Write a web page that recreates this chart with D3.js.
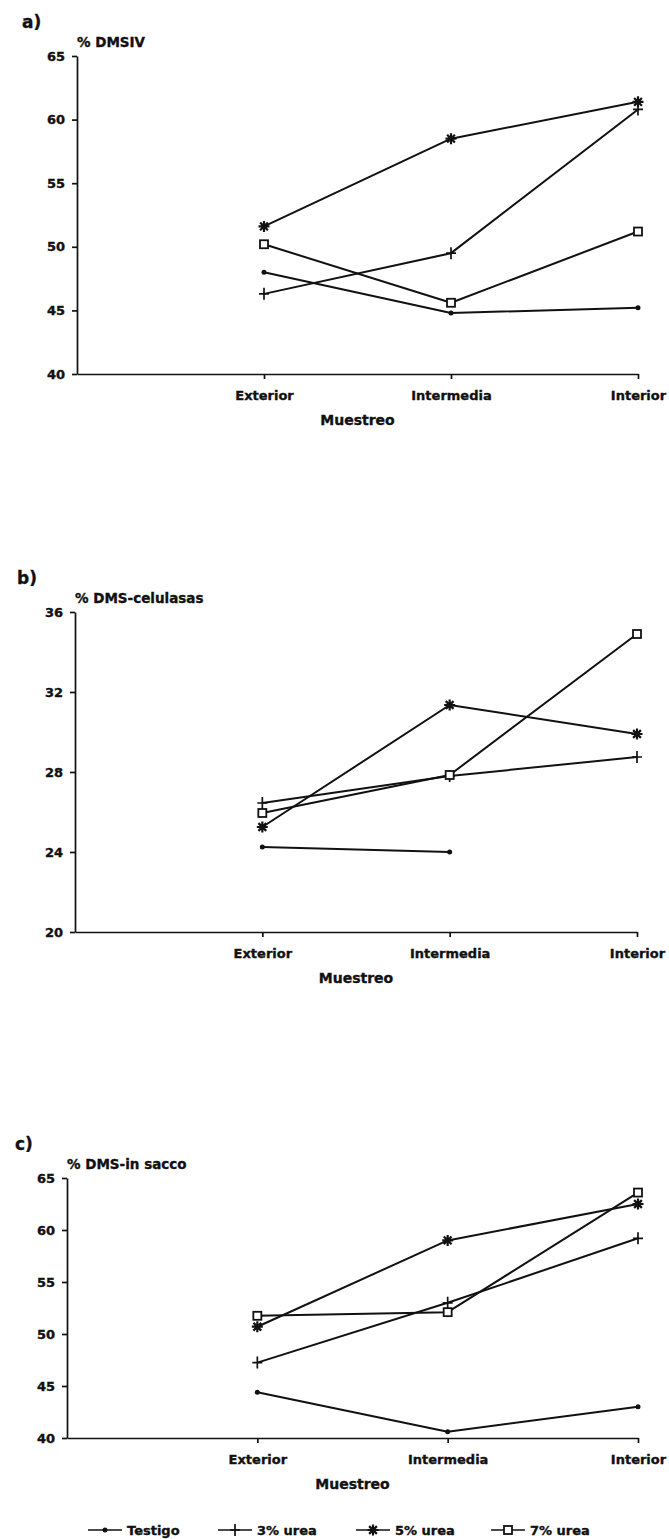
<!DOCTYPE html>
<html>
<head>
<meta charset="utf-8">
<script src="https://cdn.jsdelivr.net/npm/d3@7"></script>
<style>
  html, body { margin: 0; padding: 0; background: #fff; }
  svg { display: block; }
  text { font-family: "DejaVu Sans", "Liberation Sans", sans-serif; font-weight: bold; fill: #111; stroke: #111; stroke-width: 0.35px; }
</style>
</head>
<body>
<svg id="chart" width="669" height="1539"></svg>
<script>
// ---------------- data ----------------
const muestreo = ["Exterior", "Intermedia", "Interior"];
const seriesNames = ["Testigo", "3% urea", "5% urea", "7% urea"];
const seriesMarkers = ["dot", "plus", "star", "square"];

// a) % DMSIV
const dmsivTicks = [40, 45, 50, 55, 60, 65];
const dmsivTestigo = [48.0, 44.8, 45.2];
const dmsivUrea3 = [46.3, 49.5, 60.8];
const dmsivUrea5 = [51.6, 58.5, 61.4];
const dmsivUrea7 = [50.2, 45.6, 51.2];

// b) % DMS-celulasas
const celulasasTicks = [20, 24, 28, 32, 36];
const celulasasTestigo = [24.25, 24.0, null];
const celulasasUrea3 = [26.45, 27.8, 28.75];
const celulasasUrea5 = [25.25, 31.35, 29.9];
const celulasasUrea7 = [25.95, 27.85, 34.9];

// c) % DMS-in sacco
const insaccoTicks = [40, 45, 50, 55, 60, 65];
const insaccoTestigo = [44.4, 40.6, 43.0];
const insaccoUrea3 = [47.25, 53.0, 59.2];
const insaccoUrea5 = [50.7, 59.0, 62.5];
const insaccoUrea7 = [51.75, 52.1, 63.6];

// ---------------- drawing ----------------
const svg = d3.select("#chart");
const INK = "#111";

function marker(g, type, cx, cy) {
  if (type === "dot") {
    g.append("circle").attr("cx", cx).attr("cy", cy).attr("r", 2.5).attr("fill", INK);
  } else if (type === "plus") {
    g.append("path").attr("d", `M${cx-5},${cy}H${cx+5}M${cx},${cy-6}V${cy+6}`)
      .attr("stroke", INK).attr("stroke-width", 1.7).attr("fill", "none");
  } else if (type === "star") {
    const r = 5.5;
    let d = "";
    for (let k = 0; k < 4; k++) {
      const a = k * Math.PI / 4;
      d += `M${cx - r*Math.cos(a)},${cy - r*Math.sin(a)}L${cx + r*Math.cos(a)},${cy + r*Math.sin(a)}`;
    }
    g.append("path").attr("d", d).attr("stroke", INK).attr("stroke-width", 2.2).attr("fill", "none");
  } else if (type === "square") {
    g.append("rect").attr("x", cx - 4).attr("y", cy - 4).attr("width", 8).attr("height", 8)
      .attr("fill", "#fff").attr("stroke", INK).attr("stroke-width", 1.8);
  }
}

function panel(p) {
  const g = svg.append("g");
  const x = d3.scalePoint().domain(["", ...muestreo]).range([p.x0, p.x1]).padding(0);
  const y = d3.scaleLinear().domain([p.ticks[0], p.ticks[p.ticks.length - 1]]).range([p.yBottom, p.yTop]);

  // y axis
  const ya = g.append("g").attr("transform", `translate(${p.x0},0)`)
    .call(d3.axisLeft(y).tickValues(p.ticks).tickSize(5).tickSizeOuter(0).tickPadding(7));
  ya.select(".domain").attr("stroke", INK).attr("stroke-width", 1.7);
  ya.selectAll(".tick line").attr("stroke", INK).attr("stroke-width", 1.7);
  ya.selectAll(".tick text").style("font-size", "13px").style("font-family", "DejaVu Sans").style("font-weight", "bold").attr("fill", INK);

  // x axis
  const xa = g.append("g").attr("transform", `translate(0,${p.yBottom})`)
    .call(d3.axisBottom(x).tickValues(muestreo).tickSize(5).tickSizeOuter(0).tickPadding(12));
  xa.select(".domain").attr("stroke", INK).attr("stroke-width", 1.7);
  xa.selectAll(".tick line").attr("stroke", INK).attr("stroke-width", 1.7);
  xa.selectAll(".tick text").style("font-size", "13px").style("font-family", "DejaVu Sans").style("font-weight", "bold").attr("fill", INK);

  // axis title
  g.append("text").attr("x", (p.x0 + p.x1) / 2).attr("y", p.yBottom + 51)
    .attr("text-anchor", "middle").style("font-size", "14px").text("Muestreo");

  // panel letter and y title
  g.append("text").attr("x", p.letterX).attr("y", p.yTop - 28).style("font-size", "17px").text(p.letter);
  g.append("text").attr("x", p.x0).attr("y", p.yTop - 9).style("font-size", "13.5px").text(p.title);

  // series
  const line = d3.line().defined(d => d.v != null).x(d => x(d.c)).y(d => y(d.v));
  p.series.forEach((vals, i) => {
    const pts = muestreo.map((c, j) => ({ c, v: vals[j] }));
    g.append("path").datum(pts).attr("d", line)
      .attr("fill", "none").attr("stroke", INK).attr("stroke-width", 2).attr("stroke-linejoin", "round");
    pts.filter(d => d.v != null).forEach(d => marker(g, seriesMarkers[i], x(d.c), y(d.v)));
  });
}

panel({
  letter: "a)", letterX: 22, title: "% DMSIV", ticks: dmsivTicks,
  x0: 77, x1: 638, yTop: 56, yBottom: 374,
  series: [dmsivTestigo, dmsivUrea3, dmsivUrea5, dmsivUrea7]
});
panel({
  letter: "b)", letterX: 17, title: "% DMS-celulasas", ticks: celulasasTicks,
  x0: 75, x1: 637, yTop: 612, yBottom: 932,
  series: [celulasasTestigo, celulasasUrea3, celulasasUrea5, celulasasUrea7]
});
panel({
  letter: "c)", letterX: 15, title: "% DMS-in sacco", ticks: insaccoTicks,
  x0: 67, x1: 638, yTop: 1178, yBottom: 1438,
  series: [insaccoTestigo, insaccoUrea3, insaccoUrea5, insaccoUrea7]
});

// legend
const legendX = [88, 218, 356, 491];
const lg = svg.append("g").attr("transform", "translate(0,1530)");
seriesNames.forEach((name, i) => {
  const lx = legendX[i];
  lg.append("line").attr("x1", lx).attr("x2", lx + 34).attr("y1", 0).attr("y2", 0)
    .attr("stroke", INK).attr("stroke-width", 1.7);
  const mg = lg.append("g");
  marker(mg, seriesMarkers[i], lx + 17, 0);
  lg.append("text").attr("x", lx + 39).attr("y", 5).style("font-size", "13px").text(name);
});
</script>
</body>
</html>
